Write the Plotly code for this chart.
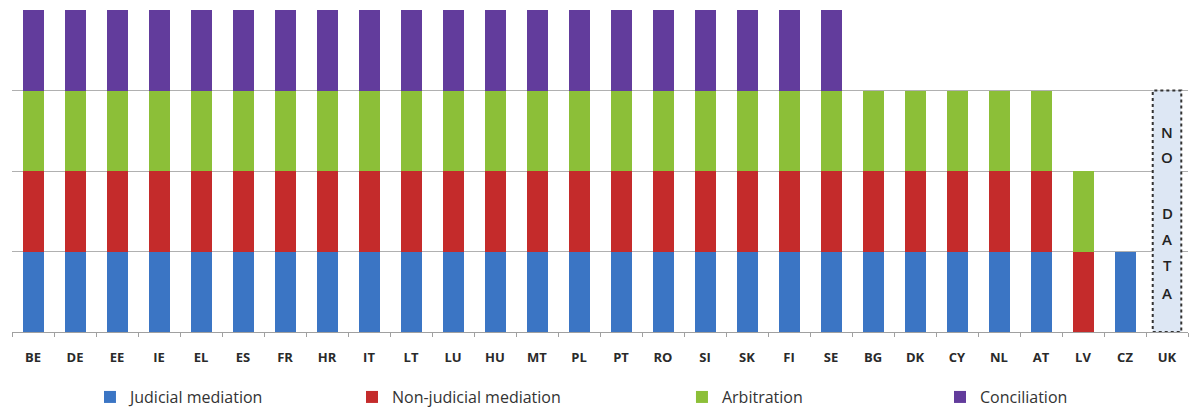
import plotly.graph_objects as go

countries = ["BE", "DE", "EE", "IE", "EL", "ES", "FR", "HR", "IT", "LT", "LU", "HU", "MT", "PL",
             "PT", "RO", "SI", "SK", "FI", "SE", "BG", "DK", "CY", "NL", "AT", "LV", "CZ", "UK"]
judicial = [1, 1, 1, 1, 1, 1, 1, 1, 1, 1, 1, 1, 1, 1, 1, 1, 1, 1, 1, 1, 1, 1, 1, 1, 1, 0, 1, 0]
non_judicial = [1, 1, 1, 1, 1, 1, 1, 1, 1, 1, 1, 1, 1, 1, 1, 1, 1, 1, 1, 1, 1, 1, 1, 1, 1, 1, 0, 0]
arbitration = [1, 1, 1, 1, 1, 1, 1, 1, 1, 1, 1, 1, 1, 1, 1, 1, 1, 1, 1, 1, 1, 1, 1, 1, 1, 1, 0, 0]
conciliation = [1, 1, 1, 1, 1, 1, 1, 1, 1, 1, 1, 1, 1, 1, 1, 1, 1, 1, 1, 1, 0, 0, 0, 0, 0, 0, 0, 0]
no_data_letters = ["N", "O", "", "D", "A", "T", "A"]

series = [
    ("Judicial mediation", judicial, "#3b75c4"),
    ("Non-judicial mediation", non_judicial, "#c42b2b"),
    ("Arbitration", arbitration, "#8cbf38"),
    ("Conciliation", conciliation, "#623c9c"),
]
legend_ids = ["legend", "legend2", "legend3", "legend4"]
legend_x = [0.0663, 0.2891, 0.5697, 0.7891]

fig = go.Figure()
for (name, vals, col), lid in zip(series, legend_ids):
    fig.add_trace(go.Bar(x=countries, y=vals, name=name, legend=lid,
                         marker=dict(color=col, line=dict(width=0))))

# No-data box for UK
uk = countries.index("UK")
fig.add_shape(type="rect", xref="x", yref="y", x0=uk - 0.34, x1=uk + 0.34, y0=0, y1=3,
              fillcolor="#dde7f4", line=dict(color="#333333", width=2, dash="dot"), layer="above")
letter_y = [2.48, 2.18, None, 1.48, 1.15, 0.83, 0.49]
for ch, yy in zip(no_data_letters, letter_y):
    if ch:
        fig.add_annotation(x=uk, y=yy, xref="x", yref="y", text=ch, showarrow=False,
                           font=dict(family="Open Sans", size=15, color="#222222", weight=600))

legend_style = dict(orientation="h", xanchor="left", y=-0.202, yanchor="middle",
                    bgcolor="rgba(0,0,0,0)", font=dict(size=16, color="#333333"))
legends = {lid: dict(legend_style, x=lx) for lid, lx in zip(legend_ids, legend_x)}

fig.update_layout(
    width=1191, height=412,
    margin=dict(l=12, r=3, t=10, b=80, autoexpand=False),
    barmode="stack", bargap=0.5,
    plot_bgcolor="white", paper_bgcolor="white",
    font=dict(family="Open Sans", color="#333333"),
    showlegend=True,
    **legends,
    xaxis=dict(type="category", showline=True, linecolor="#a0a0a0", linewidth=1,
               ticks="outside", tickson="boundaries", ticklen=4, tickcolor="#a0a0a0",
               ticklabelstandoff=13,
               tickfont=dict(family="Open Sans", size=13, color="#2a2a2a", weight="bold"),
               showgrid=False, range=[-0.5, len(countries) - 0.5]),
    yaxis=dict(range=[0, 4], showticklabels=False, showgrid=True, gridcolor="#b0b0b0",
               gridwidth=1, dtick=1, zeroline=False, showline=False, fixedrange=True),
)

fig.write_html("out.html", config={"displayModeBar": False},
               post_script="document.body.style.margin='0';document.body.style.overflow='hidden';")
